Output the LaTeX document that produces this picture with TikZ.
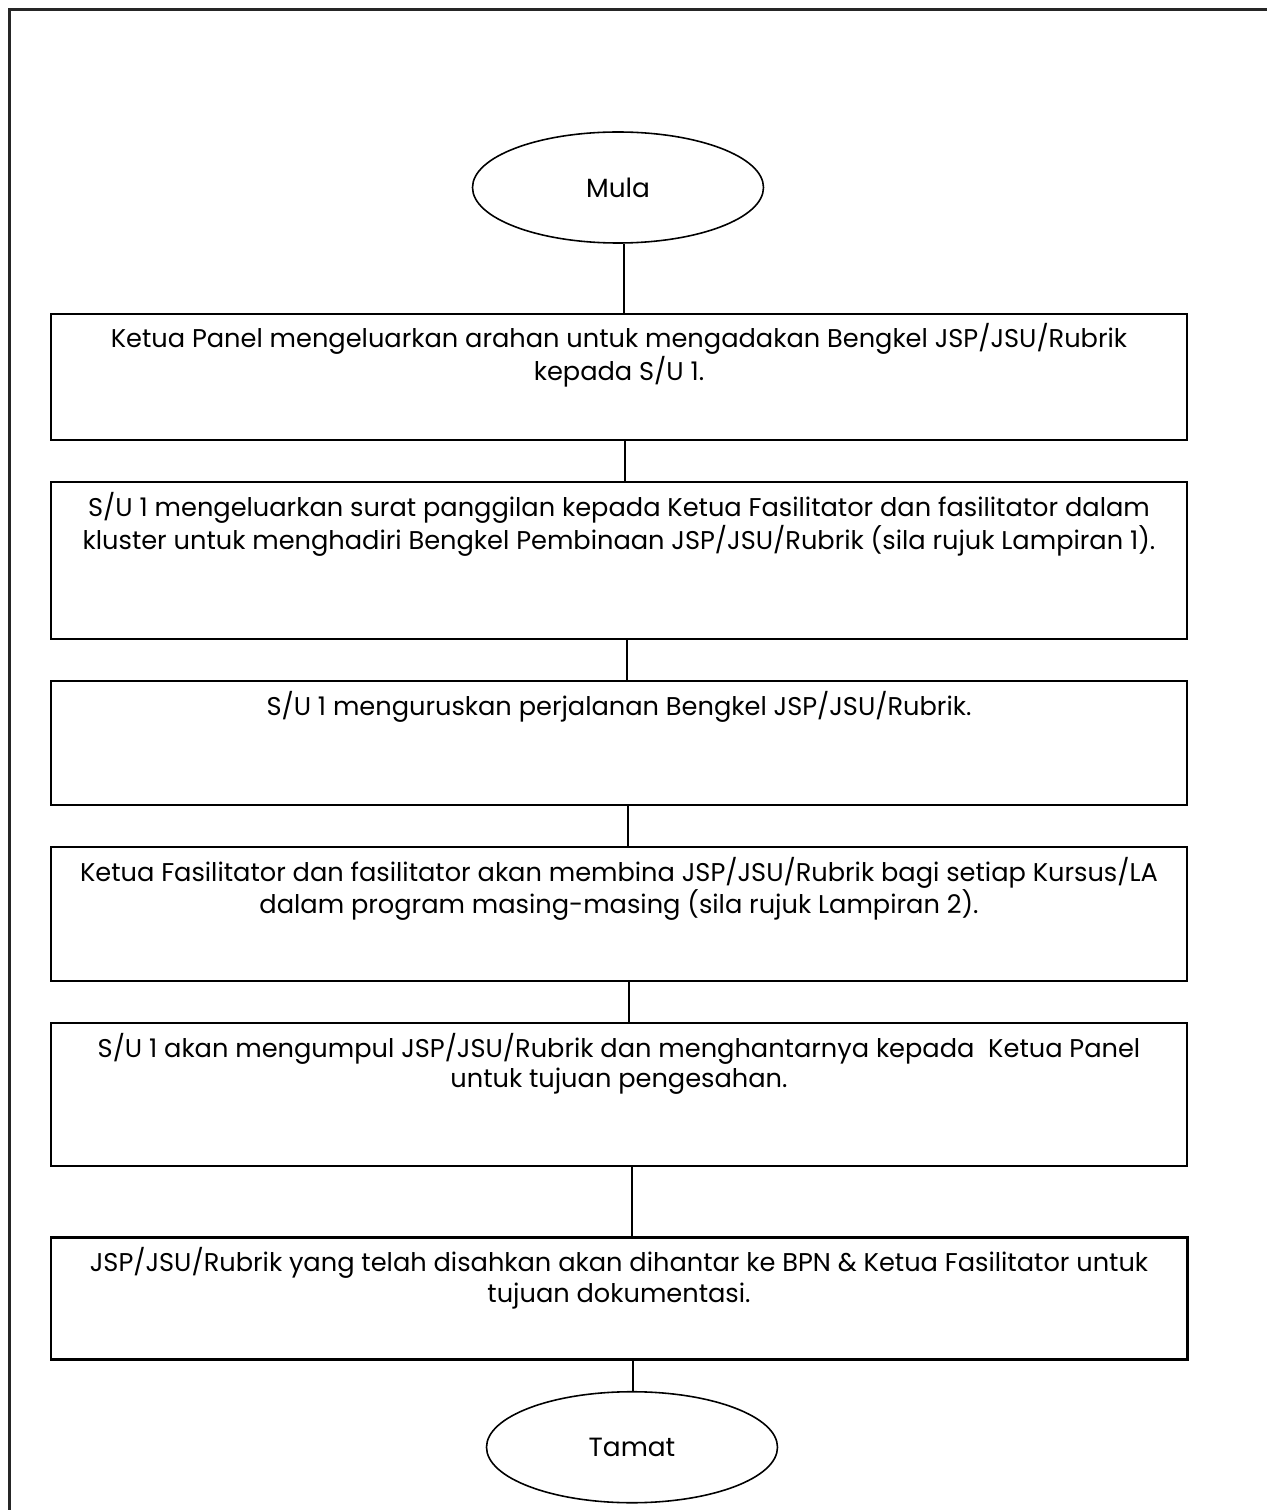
\documentclass[tikz,border=0pt]{standalone}
\usepackage{fontspec}
\setmainfont{Poppins}
\usepackage{tikz}
\usetikzlibrary{shapes.geometric, positioning}
\tikzset{
    stepbox/.style={rectangle, draw=black, line width=1.1pt, inner sep=0pt, text centered, minimum width=22.72cm},
    endblock/.style={ellipse, draw=black, line width=0.9pt, minimum width=5.82cm, minimum height=2.22cm, inner sep=0pt, font=\fontsize{15}{18}\selectfont},
    line/.style={line width=1.1pt, color=black},
    frame/.style={line width=1.7pt, color=black!85}
}
% text sits at the top of each box
\newcommand{\steptext}[2]{\parbox[c][#1][t]{22.2cm}{\centering\fontsize{14.6}{17.5}\selectfont\vspace*{0.2cm}#2}}

\begin{document}
\begin{tikzpicture}
    \useasboundingbox (0,0) rectangle (25.32,-30.2);
    \draw [frame] (25.4,-0.19) -- (0.19,-0.19) -- (0.19,-30.3);

    \node (mula) [endblock] at (12.36,-3.75) {Mula};

    \node (s1) [stepbox, below=1.38cm of mula, xshift=0.02cm] {\steptext{2.53cm}{Ketua Panel mengeluarkan arahan untuk mengadakan Bengkel JSP/JSU/Rubrik\\ kepada S/U 1.}};
    \node (s2) [stepbox, below=0.8cm of s1] {\steptext{3.14cm}{S/U 1 mengeluarkan surat panggilan kepada Ketua Fasilitator dan fasilitator dalam\\ kluster untuk menghadiri Bengkel Pembinaan JSP/JSU/Rubrik (sila rujuk Lampiran 1).}};
    \node (s3) [stepbox, below=0.8cm of s2] {\steptext{2.48cm}{S/U 1 menguruskan perjalanan Bengkel JSP/JSU/Rubrik.}};
    \node (s4) [stepbox, below=0.8cm of s3] {\steptext{2.68cm}{Ketua Fasilitator dan fasilitator akan membina JSP/JSU/Rubrik bagi setiap Kursus/LA\\ dalam program masing-masing (sila rujuk Lampiran 2).}};
    \node (s5) [stepbox, below=0.8cm of s4] {\steptext{2.86cm}{S/U 1 akan mengumpul JSP/JSU/Rubrik dan menghantarnya kepada \ Ketua Panel\\ untuk tujuan pengesahan.}};
    \node (s6) [stepbox, line width=1.7pt, below=1.38cm of s5] {\steptext{2.44cm}{JSP/JSU/Rubrik yang telah disahkan akan dihantar ke BPN \& Ketua Fasilitator untuk\\ tujuan dokumentasi.}};

    \node (tamat) [endblock, below=0.6cm of s6, xshift=0.26cm] {Tamat};

    \draw [line] ([xshift=0.12cm]mula.south) -- ([xshift=0.1cm]s1.north);
    \draw [line] ([xshift=0.12cm]s1.south) -- ([xshift=0.12cm]s2.north);
    \draw [line] ([xshift=0.16cm]s2.south) -- ([xshift=0.16cm]s3.north);
    \draw [line] ([xshift=0.18cm]s3.south) -- ([xshift=0.18cm]s4.north);
    \draw [line] ([xshift=0.2cm]s4.south) -- ([xshift=0.2cm]s5.north);
    \draw [line] ([xshift=0.26cm]s5.south) -- ([xshift=0.26cm]s6.north);
    \draw [line] ([xshift=0.28cm]s6.south) -- ([xshift=0.02cm]tamat.north);
\end{tikzpicture}
\end{document}
